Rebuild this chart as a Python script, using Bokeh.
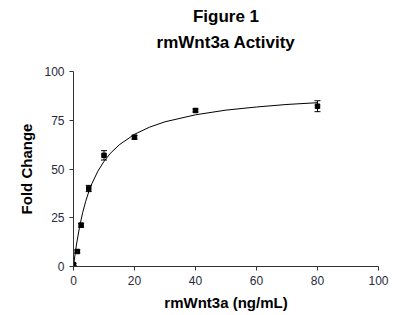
from bokeh.plotting import figure
from bokeh.models import Title, Whisker, ColumnDataSource, Range1d, FixedTicker
from bokeh.embed import file_html
from bokeh.resources import INLINE

# measured points
conc = [0, 1.25, 2.5, 5, 10, 20, 40, 80]
fold = [1.0, 7.7, 21.2, 40.0, 57.0, 66.3, 80.0, 82.2]
err = [0.5, 0.8, 1.0, 1.6, 2.4, 1.0, 0.8, 2.8]

# fitted curve
curve_x = [0, 0.5, 1, 2, 3, 4, 5, 6, 8, 10, 12, 15, 20, 25, 30, 40, 50, 60, 70, 80]
curve_y = [0, 6.1, 11.5, 20.4, 27.6, 33.4, 38.3, 42.4, 48.9, 53.9, 57.9, 62.4,
           67.8, 71.5, 74.2, 77.8, 80.2, 81.8, 83.1, 84.0]

x_ticks = [0, 20, 40, 60, 80, 100]
y_ticks = [0, 25, 50, 75, 100]

p = figure(width=393, height=313, output_backend="svg", toolbar_location=None,
           x_range=Range1d(0, 100), y_range=Range1d(0, 100),
           min_border_left=73, min_border_right=15, min_border_bottom=47, min_border_top=71)
p.outline_line_color = None
p.xgrid.visible = False
p.ygrid.visible = False
p.background_fill_color = "white"

spacer = Title(text=" ", text_font_size="11px", text_line_height=1.0, standoff=0)
sub = Title(text="rmWnt3a Activity", align="center", text_font="Liberation Sans",
            text_font_size="17px", text_font_style="bold", text_color="black",
            text_line_height=1.0, standoff=11)
main = Title(text="Figure 1", align="center", text_font="Liberation Sans",
             text_font_size="17px", text_font_style="bold", text_color="black",
             text_line_height=1.0, standoff=0)
p.add_layout(spacer, "above")
p.add_layout(sub, "above")
p.add_layout(main, "above")

for ax in (p.xaxis[0], p.yaxis[0]):
    ax.axis_line_color = "#333333"
    ax.axis_line_width = 1
    ax.major_tick_line_color = "#333333"
    ax.major_tick_out = 4
    ax.major_tick_in = 0
    ax.minor_tick_line_color = None
    ax.major_label_text_font = "Liberation Sans"
    ax.major_label_text_font_size = "12px"
    ax.major_label_text_color = "#2a2a3a"
    ax.major_label_standoff = 5
    ax.axis_label_text_font = "Liberation Sans"
    ax.axis_label_text_font_size = "15px"
    ax.axis_label_text_font_style = "bold"
    ax.axis_label_text_color = "black"

p.xaxis[0].ticker = FixedTicker(ticks=x_ticks)
p.yaxis[0].ticker = FixedTicker(ticks=y_ticks)
p.xaxis[0].axis_label = "rmWnt3a (ng/mL)"
p.yaxis[0].axis_label = "Fold Change"
p.xaxis[0].axis_label_standoff = 6
p.yaxis[0].axis_label_standoff = 6

p.line(curve_x, curve_y, line_color="black", line_width=1)

src = ColumnDataSource(dict(x=conc, y=fold,
                            lo=[f - e for f, e in zip(fold, err)],
                            hi=[f + e for f, e in zip(fold, err)]))
w = Whisker(source=src, base="x", lower="lo", upper="hi", line_color="black", line_width=1)
w.upper_head.size = 6
w.lower_head.size = 6
w.upper_head.line_color = "black"
w.lower_head.line_color = "black"
p.add_layout(w)
p.scatter("x", "y", source=src, marker="square", size=4.5, color="black")

open("out.html", "w").write(file_html(p, INLINE))
